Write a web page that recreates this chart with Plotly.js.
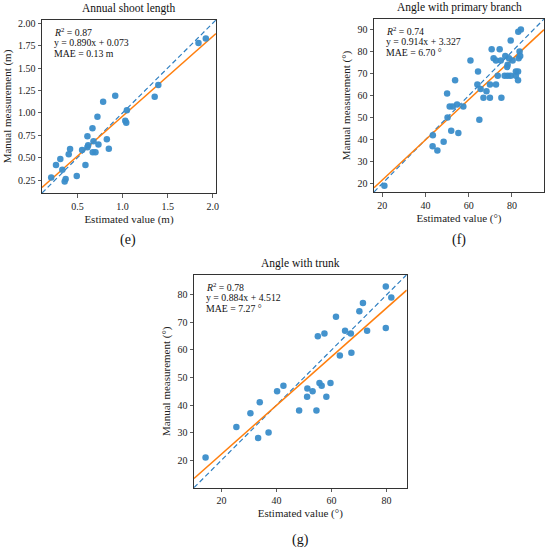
<!DOCTYPE html>
<html>
<head>
<meta charset="utf-8">
<script src="https://cdn.plot.ly/plotly-3.0.1.min.js"></script>
<style>html,body{margin:0;padding:0;background:#fff;}#chart{width:550px;height:558px;}</style>
</head>
<body>
<div id="chart"></div>
<script>
// ---- Data ----
const shootEst = [0.21,0.263,0.311,0.333,0.370,0.359,0.404,0.419,0.493,0.552,0.589,0.611,0.619,0.611,0.667,0.678,0.670,0.70,0.733,0.722,0.785,0.826,0.848,0.919,1.030,1.041,1.048,1.356,1.396,1.841,1.922];
const shootMan = [0.28,0.42,0.487,0.368,0.265,0.235,0.539,0.598,0.298,0.587,0.42,0.739,0.639,0.617,0.828,0.684,0.561,0.561,0.647,0.958,1.125,0.706,0.602,1.192,0.914,0.891,1.029,1.181,1.31,1.78,1.829];

const branchEst = [21,43.4,43.3,45.5,48.4,50.2,51.9,55.2,51.2,52.6,54.6,57.5,64.9,50,53.7,60.8,64.3,64,65.5,66.8,68.2,69.8,69.8,72.6,70.6,71.5,72.6,73.4,74.3,74.8,75.1,76.6,76.9,77.8,78,78,78.6,79.4,79.4,80.3,81.8,81.8,82.8,82.8,82.9,83.1,83.5,83.8,84.1];
const branchMan = [19,42,37,35,39,50,44,43,55,55,56,55,49,61,67,76,71,65,63,59,62,59,65,65,81,77,76,69,81,76,59,69,78,73,74,69,77,85,69,76,71,69,71,67,89,77,80,78,90];

const trunkEst = [14.2,25.4,30.5,33.9,33.3,37.1,40.2,42.5,48.2,51.2,51.1,53.1,54.5,55.0,55.6,56.4,57.4,58.1,59.6,61.6,63.0,64.9,67.0,67.2,70.1,71.4,72.9,79.7,79.7,81.7];
const trunkMan = [21,32,37,41,28,30,45,47,38,46,43,45,38,65,48,47,66,43,48,72,58,67,66,59,74,77,67,83,68,79];

const panelTitles = ["Annual shoot length", "Angle with primary branch", "Angle with trunk"];
const panelLabels = ["(e)", "(f)", "(g)"];
const xTitles = ["Estimated value (m)", "Estimated value (°)", "Estimated value (°)"];
const yTitles = ["Manual measurement (m)", "Manual measurement (°)", "Manual measurement (°)"];
const fitSlopes = [0.890, 0.914, 0.884];
const fitIntercepts = [0.073, 3.327, 4.512];
const r2Values = ["0.87", "0.74", "0.78"];
const maeTexts = ["0.13 m", "6.70 °", "7.27 °"];
const shootTicks = [0.25,0.50,0.75,1.00,1.25,1.50,1.75,2.00];
const shootXTicks = [0.5,1.0,1.5,2.0];
const branchXTicks = [20,40,60,80];
const branchYTicks = [20,30,40,50,60,70,80,90];
const trunkXTicks = [20,40,60,80];
const trunkYTicks = [20,30,40,50,60,70,80];

// ---- Layout helpers ----
const W = 550, H = 558;
const FONT = "Liberation Serif, Times New Roman, serif";
const BLUE = "#3a8dca";
const ORANGE = "#ff7f0e";
const DASH = "#2f7fc1";

const panels = [
  {x: shootEst, y: shootMan, range: [0.108, 2.035], xt: shootXTicks, yt: shootTicks, xf: ".1f", yf: ".2f",
   px: [42, 216], py: [20, 193]},
  {x: branchEst, y: branchMan, range: [16.2, 94.8], xt: branchXTicks, yt: branchYTicks, xf: "d", yf: "d",
   px: [374, 544], py: [19, 192]},
  {x: trunkEst, y: trunkMan, range: [10.0, 87.3], xt: trunkXTicks, yt: trunkYTicks, xf: "d", yf: "d",
   px: [194, 406.7], py: [274.7, 487.7]}
];

const traces = [];
const layout = {
  width: W, height: H,
  margin: {l: 0, r: 0, t: 0, b: 0},
  paper_bgcolor: "#fff", plot_bgcolor: "#fff",
  showlegend: false,
  font: {family: FONT, color: "#111", size: 10},
  annotations: []
};

panels.forEach((p, i) => {
  const n = i + 1;
  const xa = "x" + (n === 1 ? "" : n), ya = "y" + (n === 1 ? "" : n);
  const xk = "xaxis" + (n === 1 ? "" : n), yk = "yaxis" + (n === 1 ? "" : n);
  const r = p.range;
  // identity (dashed)
  traces.push({x: r, y: r, xaxis: xa, yaxis: ya, mode: "lines", type: "scatter",
    line: {color: DASH, width: 1.2, dash: "5px,3px"}, hoverinfo: "skip"});
  // regression line
  traces.push({x: r, y: r.map(v => fitSlopes[i] * v + fitIntercepts[i]), xaxis: xa, yaxis: ya,
    mode: "lines", type: "scatter", line: {color: ORANGE, width: 1.5}, hoverinfo: "skip"});
  // points
  traces.push({x: p.x, y: p.y, xaxis: xa, yaxis: ya, mode: "markers", type: "scatter",
    marker: {color: BLUE, size: 6.5, opacity: 0.95}});

  const axCommon = {
    range: r, showgrid: false, zeroline: false, showline: true, mirror: true,
    linecolor: "#333", linewidth: 1, ticks: "outside", ticklen: 3.5, tickwidth: 0.8, tickcolor: "#333",
    tickfont: {family: FONT, size: 10, color: "#222"}
  };
  layout[xk] = Object.assign({}, axCommon, {
    domain: [p.px[0] / W, p.px[1] / W], anchor: ya, tickvals: p.xt, tickformat: p.xf,
    title: {text: xTitles[i], font: {family: FONT, size: 11, color: "#222"}, standoff: 4}
  });
  layout[yk] = Object.assign({}, axCommon, {
    domain: [1 - p.py[1] / H, 1 - p.py[0] / H], anchor: xa, tickvals: p.yt, tickformat: p.yf,
    title: {text: yTitles[i], font: {family: FONT, size: 11, color: "#222"}, standoff: 4}
  });

  const cx = (p.px[0] + p.px[1]) / 2;
  // title
  layout.annotations.push({text: panelTitles[i], xref: "paper", yref: "paper",
    x: cx / W, y: 1 - (p.py[0] - 3) / H, xanchor: "center", yanchor: "bottom", showarrow: false,
    font: {family: FONT, size: 11.5, color: "#111"}});
  // stats text
  const lines = ["<i>R</i><sup>2</sup> = " + r2Values[i],
                 "y = " + fitSlopes[i].toFixed(3) + "x + " + fitIntercepts[i].toFixed(3),
                 "MAE = " + maeTexts[i]];
  lines.forEach((t, k) => {
    layout.annotations.push({text: t, xref: "paper", yref: "paper",
      x: (p.px[0] + 9.5) / W, y: 1 - (p.py[0] + 12 + k * 10.8) / H, xanchor: "left", yanchor: "middle",
      showarrow: false, font: {family: FONT, size: 9.8, color: "#111"}});
  });
});

// panel labels
const labelPos = [[128, 240], [459, 240], [300, 540]];
panelLabels.forEach((t, i) => {
  layout.annotations.push({text: t, xref: "paper", yref: "paper",
    x: labelPos[i][0] / W, y: 1 - labelPos[i][1] / H, xanchor: "center", yanchor: "middle",
    showarrow: false, font: {family: FONT, size: 14, color: "#111"}});
});

Plotly.newPlot("chart", traces, layout, {staticPlot: true, displayModeBar: false});
</script>
</body>
</html>
